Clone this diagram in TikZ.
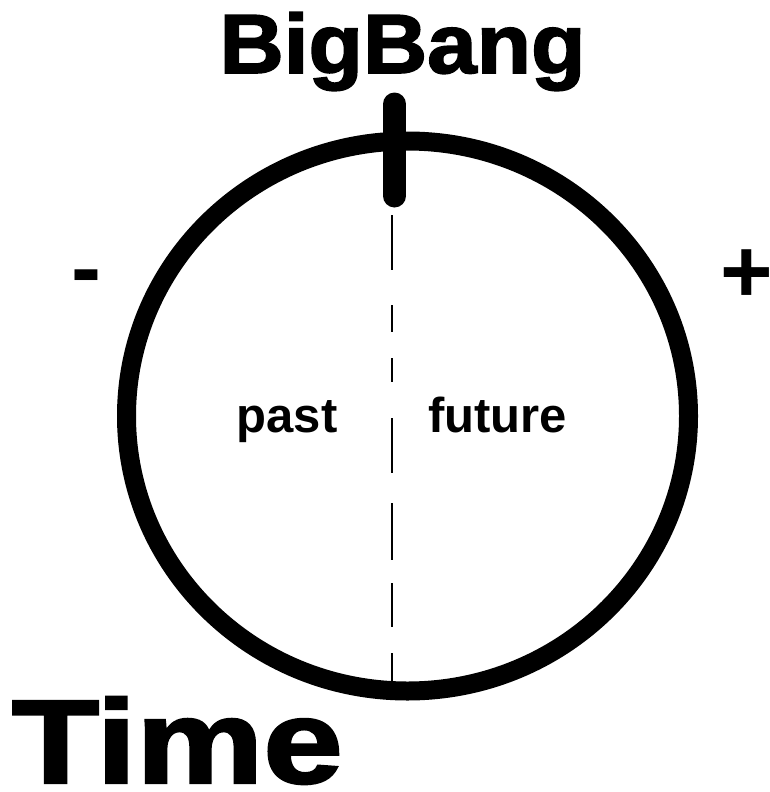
\documentclass[tikz,border=0pt]{standalone}
\usepackage{fontspec}
\setmainfont{Liberation Sans}
\newfontfamily\heavy[FakeBold=2]{Liberation Sans Bold}
\tikzset{
  lbl/.style={inner sep=0pt, outer sep=0pt, text=black},
  ring/.style={line width=19pt, draw=black},
  bigtick/.style={line width=23pt, line cap=round, draw=black},
  splitline/.style={line width=2.5pt, draw=black,
    dash pattern=on 55pt off 35pt on 27pt off 26pt on 24pt off 36pt on 55pt off 30pt on 57pt off 23pt on 44pt off 26pt on 40pt off 100pt}
}
\begin{document}
\begin{tikzpicture}[x=1pt,y=-1pt]
\useasboundingbox[fill=white] (0,0) rectangle (769,792);
\coordinate (c) at (407.5,416);
\draw[ring] (c) ellipse [x radius=281pt, y radius=275pt];
\coordinate (tt) at (394.5,104);
\coordinate (tb) at (394.5,196);
\draw[bigtick] (tt) -- (tb);
\coordinate (dt) at (392,215);
\coordinate (db) at (392,691);
\draw[splitline] (dt) -- (db);
\node[lbl, anchor=base] (bigbang) at (402.5,73) {\heavy\fontsize{84pt}{84pt}\selectfont\scalebox{1.06}[1]{BigBang}};
\node[lbl, anchor=base west] (time) at (12,783) {\heavy\fontsize{119pt}{119pt}\selectfont\scalebox{1.2}[1]{Time}};
\node[lbl, anchor=base] (past) at (287,432) {\bfseries\fontsize{49pt}{49pt}\selectfont past};
\node[lbl, anchor=base] (future) at (497.5,432) {\bfseries\fontsize{49pt}{49pt}\selectfont future};
\node[lbl, anchor=base] (minus) at (86.5,298) {\bfseries\fontsize{90pt}{90pt}\selectfont -};
\node[lbl, anchor=base] (plus) at (747,302) {\bfseries\fontsize{90pt}{90pt}\selectfont +};
\end{tikzpicture}
\end{document}
